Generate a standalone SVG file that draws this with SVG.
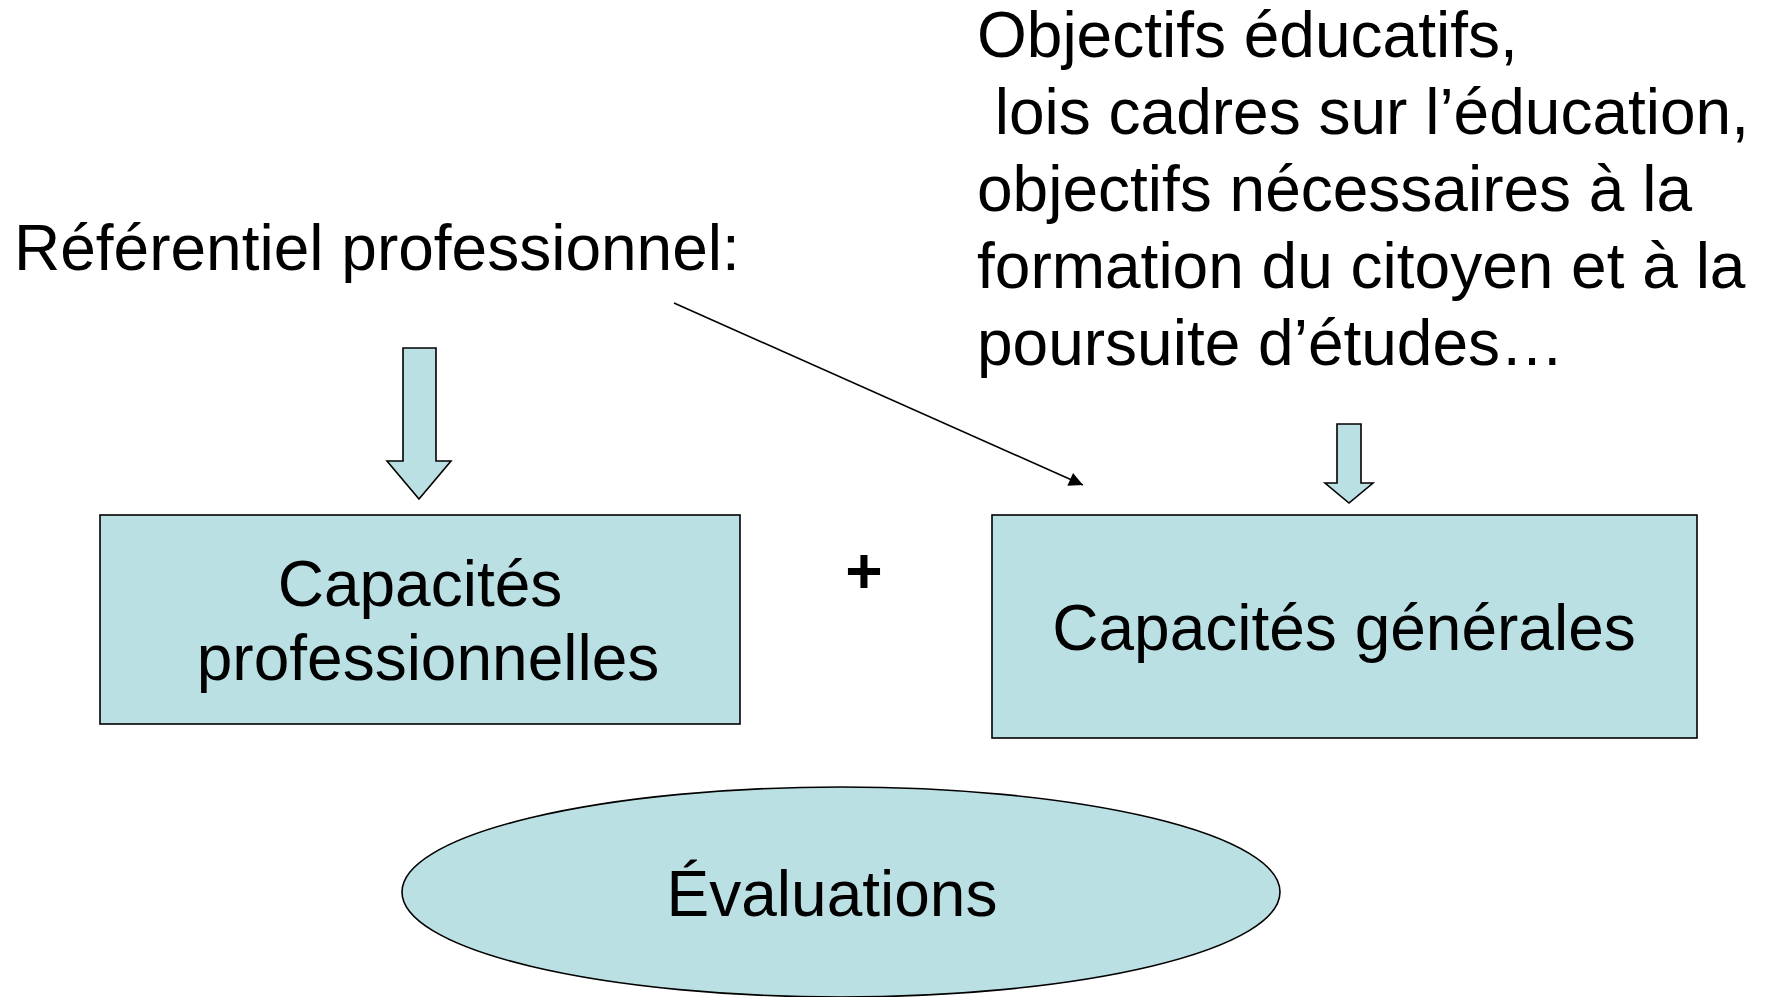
<svg xmlns="http://www.w3.org/2000/svg" width="1767" height="997" viewBox="0 0 1767 997">
<style>
text{font-family:"Liberation Sans",Arial,sans-serif;font-size:64px;fill:#000}
.shape{fill:#BBE0E3;stroke:#000;stroke-width:1.6}
.c{text-anchor:middle}
</style>
<defs>
<marker id="ah" viewBox="0 0 10 10" refX="10" refY="5" markerWidth="20" markerHeight="14" markerUnits="userSpaceOnUse" orient="auto">
<path d="M0,0 L10,5 L0,10 Z" fill="#000"/>
</marker>
</defs>
<rect width="1767" height="997" fill="#fff"/>
<g id="label-referentiel">
<text x="14" y="270">Référentiel professionnel:</text>
</g>
<g id="label-objectifs">
<text x="977" y="57" xml:space="preserve">Objectifs éducatifs,</text>
<text x="977" y="134" xml:space="preserve"> lois cadres sur l’éducation,</text>
<text x="977" y="211" xml:space="preserve">objectifs nécessaires à la</text>
<text x="977" y="288" xml:space="preserve">formation du citoyen et à la</text>
<text x="977" y="365" xml:space="preserve">poursuite d’études…</text>
</g>
<g id="arrow-left">
<path class="shape" d="M403,348 L436,348 L436,461 L451,461 L419,499 L387,461 L403,461 Z"/>
</g>
<g id="arrow-right">
<path class="shape" d="M1337,424 L1361,424 L1361,483 L1373,483 L1349,503 L1325,483 L1337,483 Z"/>
</g>
<g id="node-capacites-pro">
<rect class="shape" x="100" y="515" width="640" height="209"/>
<text class="c" x="420" y="606">Capacités</text>
<text class="c" x="428" y="680">professionnelles</text>
</g>
<g id="plus">
<text class="c" x="864" y="593" font-weight="bold">+</text>
</g>
<g id="node-capacites-gen">
<rect class="shape" x="992" y="515" width="705" height="223"/>
<text class="c" x="1344" y="650">Capacités générales</text>
</g>
<g id="node-evaluations">
<ellipse class="shape" cx="841" cy="892" rx="439" ry="105"/>
<text class="c" x="832" y="916">Évaluations</text>
</g>
<g id="connectors">
<line x1="674" y1="303" x2="1083" y2="485" stroke="#000" stroke-width="1.6" marker-end="url(#ah)"/>
</g>
</svg>
